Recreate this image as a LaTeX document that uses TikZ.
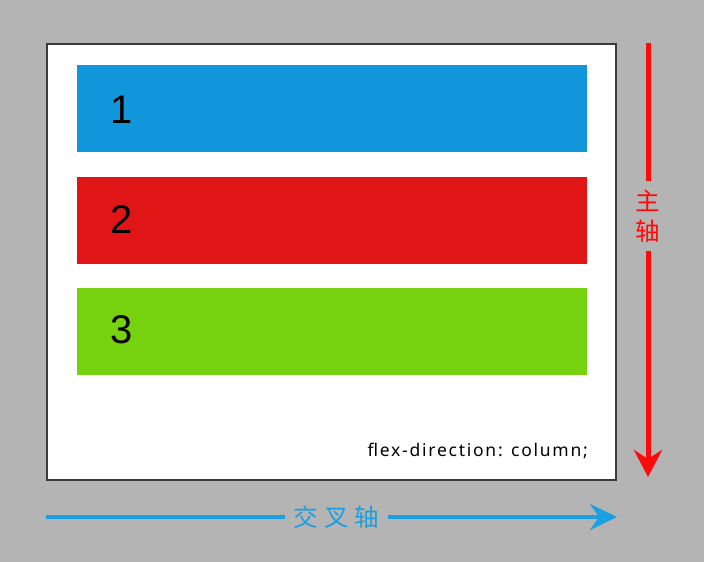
\documentclass[tikz,border=0pt]{standalone}
\usepackage{fontspec}
\setmainfont{Liberation Sans}
\newfontfamily\cjk{Noto Sans CJK SC}
\newfontfamily\csstext[LetterSpace=10]{Noto Sans}
\usetikzlibrary{arrows.meta}
\definecolor{bg}{HTML}{B4B4B4}
\definecolor{bluebox}{HTML}{1196DB}
\definecolor{redbox}{HTML}{E01515}
\definecolor{greenbox}{HTML}{76D20E}
\definecolor{axisred}{HTML}{FF0A0A}
\definecolor{axisblue}{HTML}{1AA0E0}
\definecolor{framec}{HTML}{3A3A3A}
\begin{document}
\begin{tikzpicture}[x=1pt,y=-1pt,
  item/.style={minimum width=510pt,minimum height=87pt,inner sep=0pt,draw=none},
  num/.style={font=\fontsize{40}{40}\selectfont,text=black,inner sep=0pt},
  axislbl/.style={font=\cjk\fontsize{24.5}{30}\selectfont,inner sep=0pt,align=center}]
\fill[bg] (0,0) rectangle (704,562);
\useasboundingbox (0,0) rectangle (704,562);
\node[draw=framec,line width=2pt,fill=white,minimum width=569pt,minimum height=436pt,inner sep=0pt] (frame) at (331.5,262) {};
\node[item,fill=bluebox] (b1) at (332,108.5) {};
\node[item,fill=redbox] (b2) at (332,220) {};
\node[item,fill=greenbox] (b3) at (332,331.5) {};
\node[num] (n1) at (122,110) {1};
\node[num] (n2) at (122,220) {2};
\node[num] (n3) at (122,330) {3};
\node[font=\csstext\fontsize{17.5}{20}\selectfont,anchor=base east,inner sep=0pt] (css) at (588,456) {flex-direction: column;};
% main axis
\coordinate (mtop) at (648,43);
\coordinate (mbot) at (648,477);
\node[axislbl,text=axisred,minimum height=70pt] (mlbl) at (648,216) {主\\轴};
\draw[axisred,line width=5pt] (mtop) -- (mlbl.north);
\draw[axisred,line width=5pt,-{Stealth[length=27pt,width=28pt,inset=9pt]}] (mlbl.south) -- (mbot);
% cross axis
\coordinate (cleft) at (46,517);
\coordinate (cright) at (617,517);
\node[axislbl,text=axisblue,minimum width=103pt] (clbl) at (336.5,517) {交\hspace{6pt}叉\hspace{6pt}轴};
\draw[axisblue,line width=4pt] (cleft) -- (clbl.west);
\draw[axisblue,line width=4pt,-{Stealth[length=27pt,width=26pt,inset=9pt]}] (clbl.east) -- (cright);
\end{tikzpicture}
\end{document}
